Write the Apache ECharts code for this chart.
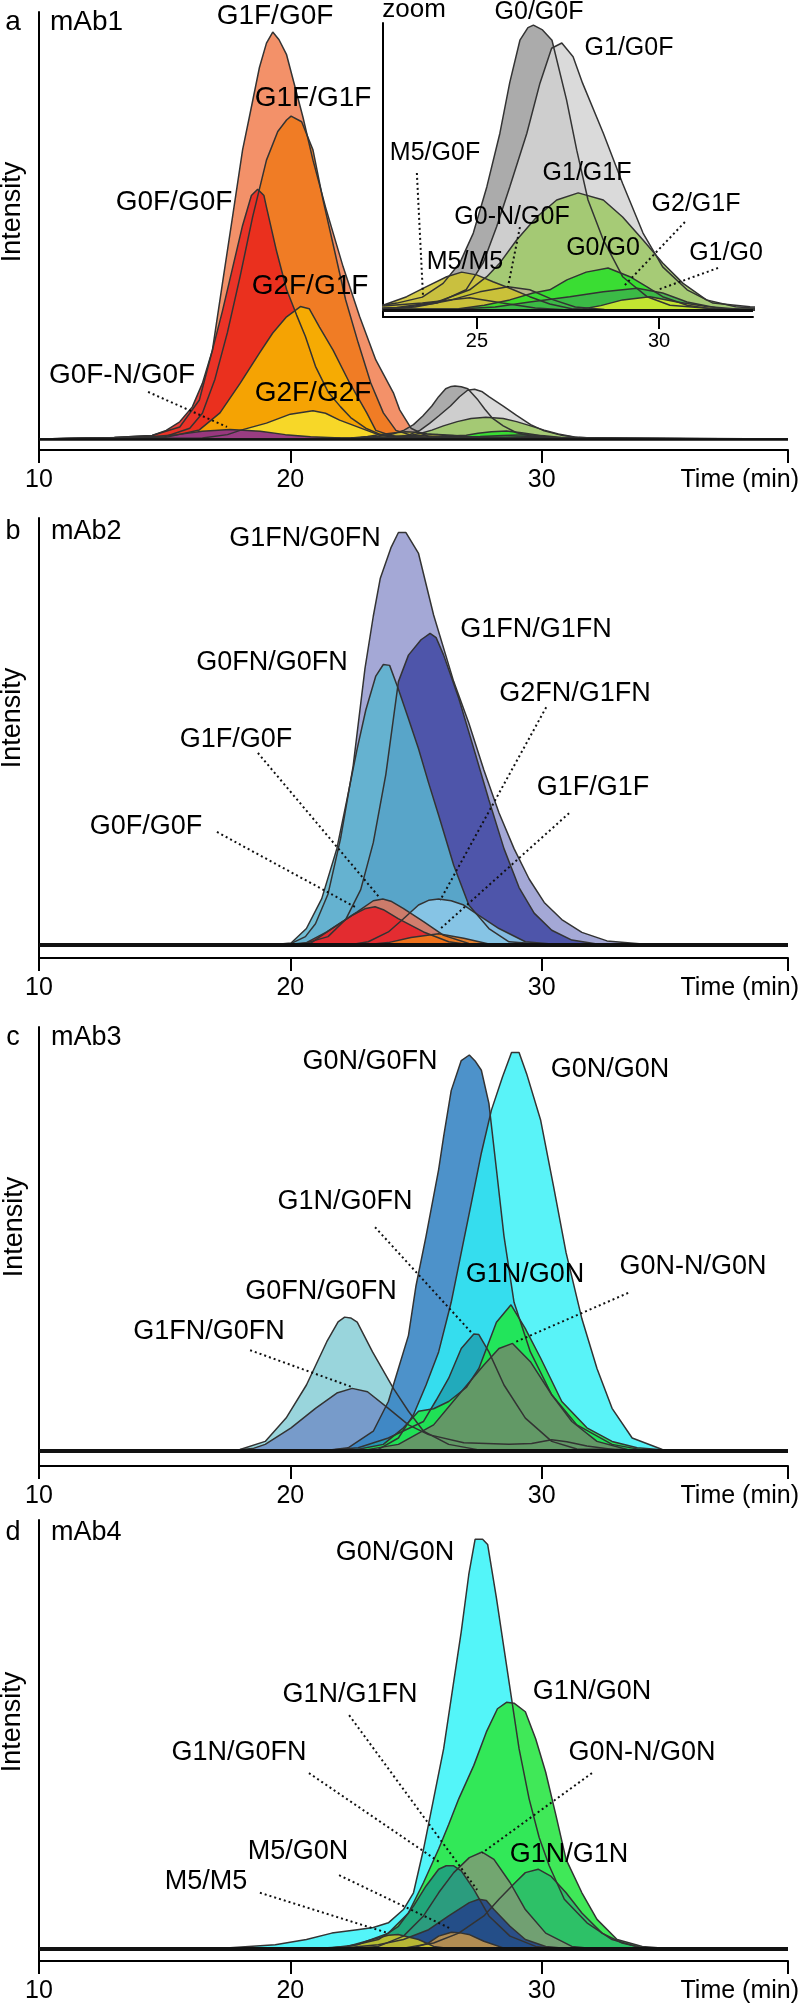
<!DOCTYPE html>
<html><head><meta charset="utf-8">
<script src="https://cdn.jsdelivr.net/npm/echarts@6/dist/echarts.min.js"></script>
<style>html,body{margin:0;padding:0;background:#fff}#c{width:800px;height:2013px}</style>
</head><body><div id="c"></div>
<script>
// ---------- Panel a (mAb1) : [time (min), intensity] ----------
const A_G1F_G0F = [[10,0],[13,0.3],[14.5,0.8],[15.6,2.8],[16.38,9.1],[16.9,20.8],[17.3,36.5],[17.7,52],[18.1,67.7],[18.37,75.4],[18.77,87],[19.05,92.7],[19.3,95.3],[19.55,93.5],[19.85,90],[20.5,75.4],[20.9,65.3],[21.4,54.3],[22.1,40.3],[22.76,28.6],[23.4,18.5],[24.1,10.8],[24.35,6.8],[24.8,2.5],[25.5,0.5],[27,0.2],[39.8,0]];
const A_G1F_G1F = [[10,0],[15,0.5],[16,2.5],[16.5,6],[17,14],[17.5,25],[18,38],[18.5,52],[19.05,65.3],[19.5,72],[19.85,74.7],[20.03,75.6],[20.45,74.3],[20.9,67.7],[21.3,56],[21.75,44.3],[22.2,32.6],[22.7,22.5],[23.2,13.1],[23.7,6.1],[24.2,2],[25.0,0.5],[39.8,0]];
const A_G0F_G0F = [[10,0],[13,0.3],[14.5,0.8],[15.06,2],[15.6,4],[16.1,7.5],[16.5,13],[16.9,20.8],[17.3,30],[17.7,40],[18.1,50],[18.45,57],[18.7,58.5],[18.95,57],[19.05,54.3],[19.45,44],[19.85,35],[20.25,29],[20.6,24],[21.0,17],[21.5,11],[22.0,7.5],[22.4,5],[23.0,2.5],[23.6,1],[24.5,0.3],[39.8,0]];
const A_G2F_G1F = [[10,0],[15,0.3],[16.38,2.1],[17.2,6.1],[18.0,13],[18.77,20.1],[19.3,24.8],[19.85,28.6],[20.4,31],[20.75,30.5],[21.16,26.2],[21.7,20.8],[22.36,13.1],[23.04,6.1],[23.4,2],[24,0.8],[25,0.2],[39.8,0]];
const A_G2F_G2F = [[10,0],[16.5,0.2],[17.5,1],[18.0,2],[19.05,3.7],[20.0,5.8],[20.9,6.6],[21.4,6],[21.96,4.4],[23.04,2.0],[23.6,0.8],[24.5,0.2],[39.8,0]];
const A_G0FN_G0F = [[10,0],[14,0.3],[15.5,1],[16.5,1.8],[17.6,2.2],[18.8,1.8],[19.8,1],[20.8,0.5],[22,0.2],[39.8,0]];
// later-eluting species (shown in main panel and in the zoom inset)
const A_G0_G0F = [[10,0],[21.5,0.1],[22.42,0.21],[22.8,0.3],[23.5,0.56],[24.07,1.16],[24.53,2.05],[24.9,3.35],[25.27,5.36],[25.63,7.7],[25.9,9.9],[26.18,11.75],[26.4,12.3],[26.55,12.41],[26.8,12.2],[27.06,11.75],[27.46,9.15],[27.74,6.96],[28.05,4.79],[28.47,3.05],[29.0,1.45],[29.67,0.58],[30.3,0.21],[31.5,0.05],[39.8,0]];
const A_G1_G0F = [[10,0],[21.5,0.03],[22.9,0.09],[23.9,0.3],[24.7,0.88],[25.17,2.05],[25.54,3.63],[25.9,5.36],[26.37,7.7],[26.73,9.88],[27.05,11.4],[27.33,11.63],[27.64,11.03],[27.9,9.88],[28.47,7.7],[29.0,5.51],[29.56,3.35],[30.1,1.88],[30.77,0.88],[31.48,0.3],[32.5,0.14],[33.5,0.05],[39.8,0]];
const A_G1_G1F = [[10,0],[21.5,0.03],[22.8,0.11],[23.9,0.35],[24.8,0.88],[25.27,1.45],[25.63,2.05],[26.09,3.05],[26.64,4.05],[27.19,4.79],[27.78,5.1],[28.47,4.79],[29.0,4.05],[29.56,3.05],[30.1,2.05],[30.66,1.16],[31.3,0.44],[32.1,0.14],[33,0.04],[39.8,0]];
const A_M5_G0F = [[10,0],[21.5,0.08],[22.5,0.18],[23.5,0.3],[24.8,0.53],[25.7,0.3],[26.6,0.09],[27.5,0],[39.8,0]];
const A_G0N_G0F = [[10,0],[22.3,0.03],[23.3,0.13],[24.3,0.44],[25.08,0.79],[25.85,1.01],[26.45,0.88],[27.1,0.44],[27.7,0.13],[28.5,0.02],[39.8,0]];
const A_M5_M5 = [[10,0],[21.0,0.05],[21.8,0.12],[22.42,0.21],[23.07,0.58],[23.6,1.01],[24.17,1.45],[24.58,1.65],[24.99,1.53],[25.44,1.23],[25.9,0.95],[26.45,0.58],[27.0,0.26],[27.6,0.05],[28.3,0],[39.8,0]];
const A_G0_G0 = [[10,0],[24.5,0.05],[25.2,0.21],[25.9,0.44],[26.54,0.74],[27.0,0.88],[27.47,1.31],[28.0,1.65],[28.6,1.83],[29.2,1.45],[29.67,1.01],[30.1,0.58],[30.77,0.21],[31.4,0.06],[32,0],[39.8,0]];
const A_G2_G1F = [[10,0],[24.5,0.04],[25.5,0.13],[26.45,0.35],[27.55,0.58],[28.47,0.79],[29.4,0.95],[30.1,0.74],[30.77,0.35],[31.7,0.06],[32.5,0],[39.8,0]];
const A_G1_G0 = [[10,0],[27.4,0],[27.9,0.04],[28.4,0.19],[29.0,0.44],[29.75,0.58],[30.5,0.35],[31.3,0.15],[32.2,0.03],[33,0],[39.8,0]];

// ---------- Panel b (mAb2) ----------
const B_G1FN_G0FN = [[10,0],[20,0.3],[20.6,2],[21.0,5],[21.5,12],[22.0,25],[22.5,42],[22.97,64.8],[23.3,77],[23.58,85.9],[24.0,93],[24.3,96.6],[24.6,96.6],[25.1,91.7],[25.7,77.3],[26.5,61.7],[27.1,52],[27.7,41],[28.3,31],[28.9,22.6],[29.5,15.5],[30.1,10],[30.8,6],[31.6,3],[32.6,1],[34,0.3],[39.8,0]];
const B_G1FN_G1FN = [[10,0],[20.5,0.3],[21.5,2],[22.2,6],[22.8,13],[23.3,24],[23.8,40],[24.3,61.7],[24.7,67.9],[25.2,71.5],[25.56,73],[25.8,72],[26.1,67.9],[26.7,57.8],[27.3,46],[27.9,34],[28.5,22.6],[29.1,13.5],[29.7,7.5],[30.4,3.5],[31.2,1.2],[32.2,0.3],[39.8,0]];
const B_G0FN_G0FN = [[10,0],[19.5,0.2],[20.03,0.5],[20.64,3.9],[21.25,10.9],[21.85,22.6],[22.26,34.3],[22.66,46],[23.0,55],[23.4,63],[23.7,65.7],[23.95,65.5],[24.29,60.1],[24.7,53],[25.1,46],[25.5,38],[25.9,30.4],[26.5,18.7],[27.1,9.4],[27.9,3.9],[28.7,0.8],[30,0.2],[39.8,0]];
const B_G2FN_G1FN = [[10,0],[22.5,0.2],[23.1,0.8],[23.9,3.1],[24.5,6.2],[25.1,9.4],[25.5,10.5],[25.9,10.8],[26.4,10.4],[26.9,9.4],[27.5,7.0],[28.3,3.9],[29.35,0.8],[30.5,0.2],[39.8,0]];
const B_G1F_G0F = [[10,0],[20.2,0.2],[20.84,0.6],[21.65,3.9],[22.66,7.8],[23.3,10.4],[23.68,10.8],[24.0,10.3],[24.49,8.6],[25.3,5.5],[26.1,2.3],[27.1,0.4],[28,0.1],[39.8,0]];
const B_G0F_G0F = [[10,0],[20,0.2],[20.64,0.6],[21.45,3.1],[22.46,7.0],[23.0,8.6],[23.37,9.0],[23.7,8.3],[24.29,6.2],[25.3,3.1],[26.3,0.8],[27,0.2],[39.8,0]];
const B_G1F_G1F = [[10,0],[23.0,0.1],[23.9,0.6],[24.8,1.8],[25.9,2.7],[26.9,1.6],[27.9,0.3],[29,0],[39.8,0]];

// ---------- Panel c (mAb3) ----------
const C_G0FN_G0FN = [[10,0],[17.0,0.1],[18.0,0.4],[19.0,2.3],[19.83,7.8],[20.64,15.6],[21.45,25.8],[21.9,30.5],[22.16,31.6],[22.4,31.4],[22.66,30.4],[23.27,23.4],[24.1,14.8],[24.7,9.4],[25.3,4.7],[26.3,1.6],[27.5,0.3],[39.8,0]];
const C_G1FN_G0FN = [[10,0],[17.5,0.1],[18.5,0.6],[19.0,1.6],[20.03,5.5],[21.0,10.1],[21.85,13.7],[22.46,14.8],[23.07,14.0],[23.9,10.1],[24.7,6.2],[25.5,3.9],[26.9,2.0],[28.7,1.6],[29.6,1.8],[30.4,2.7],[31.0,2.2],[31.8,1.2],[33,0.3],[39.8,0]];
const C_G0N_G0FN = [[10,0],[21.5,0.2],[22.3,0.8],[23.3,4.7],[23.9,11.7],[24.3,19.5],[24.7,27.3],[25.0,39],[25.4,50.7],[25.9,66.4],[26.1,74.2],[26.4,85],[26.8,92.1],[27.12,93.4],[27.35,92],[27.6,89.8],[27.9,82],[28.2,66.4],[28.5,50.7],[28.9,35.1],[29.55,23.4],[30.4,13.3],[31.4,6.2],[32.8,1.6],[34,0.3],[39.8,0]];
const C_G0N_G0N = [[10,0],[22.5,0.1],[23.5,0.4],[24.3,3.1],[24.9,8.6],[25.4,15.6],[25.9,23.4],[26.4,35.1],[26.8,46.8],[27.2,58.5],[27.6,70.3],[28.0,80.4],[28.44,88.2],[28.8,94],[29.1,94],[29.4,89],[29.96,78],[30.47,62.5],[30.97,46.8],[31.6,31.2],[32.2,19.5],[32.8,10.1],[33.6,3.1],[34.8,0.4],[36,0.1],[39.8,0]];
const C_G1N_G0FN = [[10,0],[21.5,0.2],[22.7,0.8],[23.9,3.1],[25.3,7],[25.8,12],[26.3,17.2],[26.8,24.2],[27.3,27.6],[27.5,27.5],[27.9,23.4],[28.5,15.6],[29.35,7.8],[30.4,2.3],[31.4,0.5],[39.8,0]];
const C_G1N_G0N = [[10,0],[22.5,0.2],[23.7,1.6],[24.5,5.5],[25.1,9.4],[25.7,10],[26.3,11.7],[27.0,15],[27.5,19.5],[28.2,30.4],[28.78,34.5],[29.35,28.9],[29.96,21.9],[30.8,11.7],[31.8,5.5],[32.8,2.3],[33.8,0.8],[35,0.2],[39.8,0]];
const C_G0NN_G0N = [[10,0],[23,0.3],[24.3,1.6],[25.7,6.2],[26.7,13.3],[27.7,20.3],[28.3,24.2],[28.84,25.4],[29.55,21.1],[30.4,13.3],[31.2,7.0],[32.2,2.3],[33.4,0.4],[39.8,0]];

// ---------- Panel d (mAb4) ----------
const D_G0N_G0N = [[10,0],[14,0.2],[17.6,0.3],[19.4,1.0],[20.64,2.2],[21.65,3.7],[22.66,4.5],[23.3,5],[23.9,6.1],[24.5,9.2],[24.9,13.1],[25.3,23.3],[25.7,35],[26.1,46.7],[26.5,62.3],[26.8,74],[27.1,87.3],[27.35,95.5],[27.65,95.5],[27.85,94.3],[28.2,81.8],[28.5,70.1],[28.8,58.4],[29.1,46.7],[29.5,35],[29.9,26],[30.3,19.4],[30.9,11.6],[31.8,6.1],[32.8,2.2],[34.0,0.2],[39.8,0]];
const D_G1N_G0N = [[10,0],[21.5,0.2],[22.66,1.0],[23.9,3.7],[24.7,8.4],[25.3,15.5],[25.9,23.3],[26.3,29],[26.7,35],[27.3,42.8],[27.8,50.6],[28.24,56],[28.6,57.5],[28.9,57.3],[29.35,55.3],[29.76,49],[30.16,41.2],[30.57,31.1],[30.97,20.9],[31.6,13.1],[32.2,6.9],[33.0,2.2],[34.0,0.6],[35,0.1],[39.8,0]];
const D_G1N_G1N = [[10,0],[24.5,0.2],[25.7,1.4],[26.7,3.7],[27.7,7.7],[28.3,11.6],[28.95,15.5],[29.35,17.8],[29.86,18.6],[30.36,17.0],[30.97,13.1],[31.6,8.4],[32.4,3.7],[33.2,1.4],[34.0,0.3],[39.8,0]];
const D_G0NN_G0N = [[10,0],[22.5,0.1],[23.5,0.6],[24.5,3.0],[25.3,7.7],[25.9,13.1],[26.5,17.8],[27.12,21.3],[27.63,22.6],[28.1,20.9],[28.74,15.5],[29.35,9.2],[30.16,3.7],[31.2,0.6],[32,0.1],[39.8,0]];
const D_G1N_G1FN = [[10,0],[21,0.1],[22.3,0.6],[23.5,2.2],[24.3,5.3],[24.9,10.0],[25.4,14.7],[25.9,18.6],[26.2,19.4],[26.5,19.4],[26.8,18.2],[27.3,13.9],[27.9,7.7],[28.74,3.0],[29.76,0.6],[30.5,0.1],[39.8,0]];
const D_G1N_G0FN = [[10,0],[22,0.2],[23.5,1.0],[24.5,2.2],[25.5,4.5],[26.3,7.7],[27.12,10.8],[27.5,11.6],[27.8,11.3],[28.1,9.2],[28.74,5.3],[29.35,2.2],[30.16,0.6],[31,0.1],[39.8,0]];
const D_M5_G0N = [[10,0],[24.8,0.1],[25.5,1.4],[25.9,3.0],[26.41,3.9],[26.8,3.7],[27.1,3.4],[27.7,1.8],[28.5,0.2],[39.8,0]];
const D_M5_M5 = [[10,0],[21.5,0.1],[22.26,0.6],[23.27,2.2],[23.9,3.2],[24.29,3.4],[25.1,2.2],[25.7,0.6],[26.3,0.1],[39.8,0]];

// ---------- axis tick values ----------
const MAIN_TICKS = [10, 20, 30];
const INSET_TICKS = [25, 30];

// ---------- leader (dotted) lines, in data units: [t1, v1, t2, v2] ----------
const LEAD_A = [[14.34, 11.0, 17.48, 2.8]];
const LEAD_INSET = [[23.35, 5.97, 23.52, 0.57], [26.18, 3.61, 25.85, 1.0], [30.71, 3.83, 29.01, 1.0], [31.62, 1.83, 29.95, 0.87]];
const LEAD_B = [[18.71, 45, 23.57, 11.0], [17.08, 26.5, 22.65, 8.7], [30.18, 55.7, 25.96, 10.5], [31.09, 30.9, 26.0, 4.0]];
const LEAD_C = [[23.37, 52.8, 27.23, 27.8], [33.44, 37.3, 28.94, 25.7], [18.4, 23.8, 22.46, 15.1]];
const LEAD_D = [[22.34, 54.5, 27.43, 13.8], [20.74, 41.0, 25.92, 20.3], [32.0, 41.0, 27.63, 22.4], [21.94, 17.2, 26.32, 4.9], [18.79, 13.1, 23.89, 3.7]];

const FONT = "'Liberation Sans', Arial, Helvetica, sans-serif";
const chart = echarts.init(document.getElementById('c'), null, {renderer: 'canvas'});

const grids = [
  {left: 39, top: 12, width: 749, height: 438},
  {left: 39, top: 518, width: 749, height: 440},
  {left: 39, top: 1027, width: 749, height: 439},
  {left: 39, top: 1520, width: 749, height: 441},
  {left: 383, top: 23, width: 370, height: 294}
];
const yMins = [-2.6, -3.0, -3.5, -2.8];

function mainX(i) {
  return {
    type: 'value', gridIndex: i, min: 10, max: 39.8,
    axisLine: {show: true, onZero: false, lineStyle: {color: '#000', width: 2}},
    axisTick: {show: true, length: 13, lineStyle: {color: '#000', width: 2}, customValues: MAIN_TICKS.concat([39.8])},
    axisLabel: {show: true, margin: 18, color: '#000', fontSize: 25, fontFamily: FONT, customValues: MAIN_TICKS},
    splitLine: {show: false},
    name: 'Time (min)', nameLocation: 'end', nameGap: 11,
    nameTextStyle: {color: '#000', fontSize: 25, fontFamily: FONT, align: 'right', verticalAlign: 'top', padding: [18, 0, 0, 0]}
  };
}
function mainY(i) {
  return {
    type: 'value', gridIndex: i, min: yMins[i], max: 100,
    axisLine: {show: true, onZero: false, lineStyle: {color: '#000', width: 2}},
    axisTick: {show: false}, axisLabel: {show: false}, splitLine: {show: false}
  };
}
const xAxes = [mainX(0), mainX(1), mainX(2), mainX(3), {
  type: 'value', gridIndex: 4, min: 22.42, max: 32.58,
  axisLine: {show: true, onZero: false, lineStyle: {color: '#000', width: 2}},
  axisTick: {show: true, length: 12, lineStyle: {color: '#000', width: 2}, customValues: INSET_TICKS},
  axisLabel: {show: true, margin: 14, color: '#000', fontSize: 20, fontFamily: FONT, customValues: INSET_TICKS},
  splitLine: {show: false}
}];
const yAxes = [mainY(0), mainY(1), mainY(2), mainY(3), {
  type: 'value', gridIndex: 4, min: -0.305, max: 12.5,
  axisLine: {show: true, onZero: false, lineStyle: {color: '#000', width: 2}},
  axisTick: {show: false}, axisLabel: {show: false}, splitLine: {show: false}
}];

function S(name, data, color, gi, op) {
  return {
    type: 'line', name: name, data: data, xAxisIndex: gi, yAxisIndex: gi,
    symbol: 'none', showSymbol: false, silent: true, clip: true,
    lineStyle: {color: '#333', width: 1.5},
    areaStyle: {color: color, opacity: op},
    emphasis: {disabled: true}
  };
}
function leaders(s, list, baseW) {
  const d = list.map(l => [{coord: [l[0], l[1]]}, {coord: [l[2], l[3]]}]);
  if (baseW) d.push({yAxis: 0, lineStyle: {type: 'solid', width: baseW, color: '#111'}});
  s.markLine = {
    silent: true, symbol: ['none', 'none'], label: {show: false}, animation: false,
    lineStyle: {type: [2, 3], color: '#111', width: 2}, emphasis: {disabled: true},
    data: d
  };
  return s;
}

const gray = [
  ['G0/G0F', A_G0_G0F, '#9C9C9C'], ['G1/G0F', A_G1_G0F, '#D4D4D4'], ['G1/G1F', A_G1_G1F, '#9CC864'],
  ['M5/G0F', A_M5_G0F, '#8C8466'], ['G0-N/G0F', A_G0N_G0F, '#B8B28C'], ['M5/M5', A_M5_M5, '#CEC32C'],
  ['G0/G0', A_G0_G0, '#28E028'], ['G2/G1F', A_G2_G1F, '#3CB44A'], ['G1/G0', A_G1_G0, '#DCEC2E']
];

const series = [
  S('G1F/G0F', A_G1F_G0F, '#F2885C', 0, 0.92),
  S('G1F/G1F', A_G1F_G1F, '#EF7A1E', 0, 0.9),
  S('G0F/G0F', A_G0F_G0F, '#E8251E', 0, 0.88),
  S('G2F/G1F', A_G2F_G1F, '#F6B000', 0, 0.9),
  S('G2F/G2F', A_G2F_G2F, '#F7DD2C', 0, 0.9),
  S('G0F-N/G0F', A_G0FN_G0F, '#8E2C8C', 0, 0.9)
];
gray.forEach(g => series.push(S(g[0], g[1], g[2], 0, 0.85)));
leaders(series[series.length - 1], LEAD_A, 2.5);
gray.forEach(g => series.push(S(g[0], g[1], g[2], 4, 0.85)));
leaders(series[series.length - 1], LEAD_INSET, 3);

series.push(S('G1FN/G0FN', B_G1FN_G0FN, '#9FA3D4', 1, 0.95));
series.push(S('G1FN/G1FN', B_G1FN_G1FN, '#3F47A2', 1, 0.85));
series.push(S('G0FN/G0FN', B_G0FN_G0FN, '#5AB4CF', 1, 0.85));
series.push(S('G2FN/G1FN', B_G2FN_G1FN, '#8CC8E8', 1, 0.9));
series.push(S('G1F/G0F', B_G1F_G0F, '#D9775F', 1, 0.9));
series.push(S('G0F/G0F', B_G0F_G0F, '#E5232A', 1, 0.9));
series.push(leaders(S('G1F/G1F', B_G1F_G1F, '#F07A1A', 1, 0.9), LEAD_B, 4));

series.push(S('G0FN/G0FN', C_G0FN_G0FN, '#8ED0D8', 2, 0.9));
series.push(S('G1FN/G0FN', C_G1FN_G0FN, '#6E8CC6', 2, 0.8));
series.push(S('G0N/G0FN', C_G0N_G0FN, '#3A86C4', 2, 0.9));
series.push(S('G0N/G0N', C_G0N_G0N, '#30F0F6', 2, 0.8));
series.push(S('G1N/G0FN', C_G1N_G0FN, '#1E9EAE', 2, 0.8));
series.push(S('G1N/G0N', C_G1N_G0N, '#20E64A', 2, 0.9));
series.push(leaders(S('G0N-N/G0N', C_G0NN_G0N, '#6E8C6A', 2, 0.85), LEAD_C, 4));

series.push(S('G0N/G0N', D_G0N_G0N, '#40F4F8', 3, 0.9));
series.push(S('G1N/G0N', D_G1N_G0N, '#30E64A', 3, 0.92));
series.push(S('G1N/G1N', D_G1N_G1N, '#2DBA6A', 3, 0.85));
series.push(S('G0N-N/G0N', D_G0NN_G0N, '#7E9A74', 3, 0.85));
series.push(S('G1N/G1FN', D_G1N_G1FN, '#1E9A80', 3, 0.85));
series.push(S('G1N/G0FN', D_G1N_G0FN, '#24468A', 3, 0.9));
series.push(S('M5/G0N', D_M5_G0N, '#C2954E', 3, 0.9));
series.push(leaders(S('M5/M5', D_M5_M5, '#C8C22C', 3, 0.9), LEAD_D, 4));

// ---------- text annotations: [text, x, y, size, align] ----------
const TEXTS = [
  ['a', 13, 22, 28, 'center'], ['mAb1', 50, 22, 28, 'left'],
  ['G1F/G0F', 275, 16, 28, 'center'], ['G1F/G1F', 313, 98, 28, 'center'],
  ['G0F/G0F', 174, 202, 28, 'center'], ['G2F/G1F', 310, 286, 28, 'center'],
  ['G0F-N/G0F', 122, 375, 28, 'center'], ['G2F/G2F', 313, 393, 28, 'center'],
  ['zoom', 414, 10, 26, 'center'],
  ['G0/G0F', 539, 12, 25, 'center'], ['G1/G0F', 629, 48, 25, 'center'],
  ['M5/G0F', 435, 153, 25, 'center'], ['G1/G1F', 587, 173, 25, 'center'],
  ['G2/G1F', 696, 204, 25, 'center'], ['G0-N/G0F', 512, 217, 25, 'center'],
  ['G0/G0', 603, 248, 25, 'center'], ['G1/G0', 726, 253, 25, 'center'],
  ['M5/M5', 465, 262, 25, 'center'],
  ['b', 13, 532, 27, 'center'], ['mAb2', 51, 532, 27, 'left'],
  ['G1FN/G0FN', 305, 539, 27, 'center'], ['G1FN/G1FN', 536, 630, 27, 'center'],
  ['G0FN/G0FN', 272, 663, 27, 'center'], ['G2FN/G1FN', 575, 694, 27, 'center'],
  ['G1F/G0F', 236, 740, 27, 'center'], ['G1F/G1F', 593, 788, 27, 'center'],
  ['G0F/G0F', 146, 827, 27, 'center'],
  ['c', 13, 1038, 27, 'center'], ['mAb3', 51, 1038, 27, 'left'],
  ['G0N/G0FN', 370, 1062, 27, 'center'], ['G0N/G0N', 610, 1070, 27, 'center'],
  ['G1N/G0FN', 345, 1202, 27, 'center'], ['G1N/G0N', 525, 1275, 27, 'center'],
  ['G0N-N/G0N', 693, 1267, 27, 'center'], ['G0FN/G0FN', 321, 1292, 27, 'center'],
  ['G1FN/G0FN', 209, 1332, 27, 'center'],
  ['d', 13, 1533, 27, 'center'], ['mAb4', 51, 1533, 27, 'left'],
  ['G0N/G0N', 395, 1553, 27, 'center'], ['G1N/G0N', 592, 1692, 27, 'center'],
  ['G1N/G1FN', 350, 1695, 27, 'center'], ['G1N/G0FN', 239, 1753, 27, 'center'],
  ['G0N-N/G0N', 642, 1753, 27, 'center'], ['M5/G0N', 298, 1852, 27, 'center'],
  ['G1N/G1N', 569, 1855, 27, 'center'], ['M5/M5', 206, 1882, 27, 'center']
];
const YNAMES = [[13, 212], [13, 718], [15, 1227], [13, 1722]];

const graphic = TEXTS.map(t => ({
  type: 'text', x: t[1], y: t[2], silent: true, z: 100,
  style: {text: t[0], fill: '#000', font: t[3] + 'px ' + FONT, fontSize: t[3], fontFamily: FONT,
          textAlign: t[4], align: t[4], textVerticalAlign: 'middle', verticalAlign: 'middle'}
}));
YNAMES.forEach(p => graphic.push({
  type: 'text', x: p[0], y: p[1], rotation: Math.PI / 2, silent: true, z: 100,
  style: {text: 'Intensity', fill: '#000', font: '27px ' + FONT, fontSize: 27, fontFamily: FONT,
          textAlign: 'center', align: 'center', textVerticalAlign: 'middle', verticalAlign: 'middle'}
}));

chart.setOption({
  animation: false,
  backgroundColor: '#fff',
  grid: grids,
  xAxis: xAxes,
  yAxis: yAxes,
  series: series,
  graphic: graphic
});
</script></body></html>
